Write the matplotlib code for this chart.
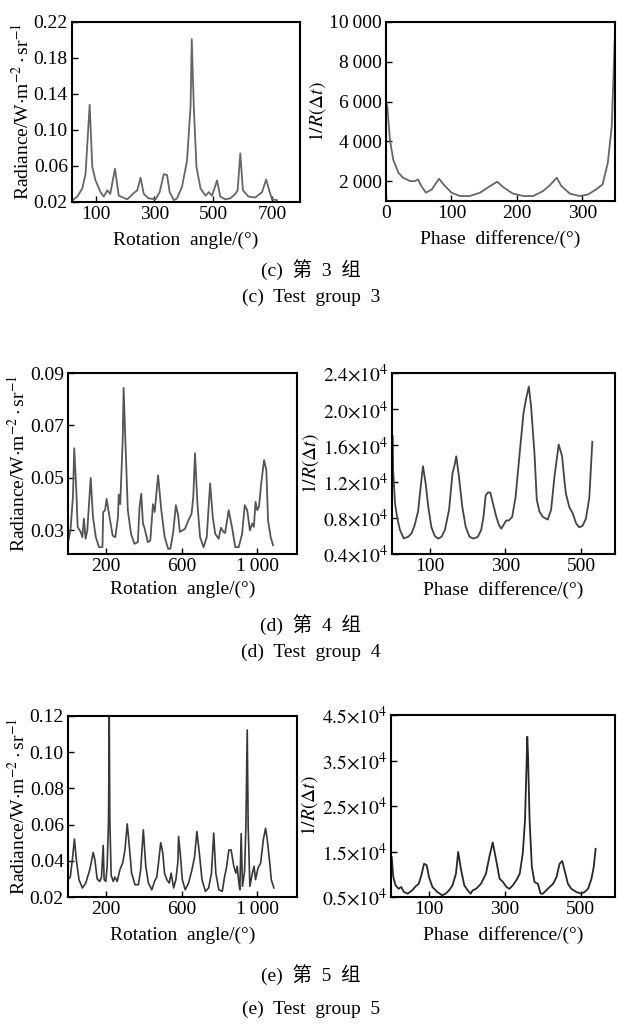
import matplotlib
matplotlib.use("Agg")
import matplotlib.pyplot as plt

plt.rcParams["font.family"] = ["Liberation Serif", "Noto Sans CJK SC"]
plt.rcParams["mathtext.fontset"] = "stix"

# ---- (c) test group 3 ----
c_ang = [22, 38, 55, 66, 80, 89, 100, 117, 128, 140, 150, 166, 179, 208, 230, 242,
         253, 264, 281, 304, 318, 332, 343, 352, 366, 377, 394, 411, 423, 427, 434,
         443, 457, 474, 485, 496, 513, 524, 541, 558, 575, 583, 592, 601, 620, 643,
         666, 680, 692, 700, 717]
c_rad = [0.022, 0.026, 0.035, 0.051, 0.128, 0.059, 0.044, 0.031, 0.026, 0.033, 0.029,
         0.057, 0.027, 0.023, 0.030, 0.033, 0.047, 0.029, 0.024, 0.023, 0.031, 0.051,
         0.050, 0.031, 0.022, 0.024, 0.037, 0.066, 0.126, 0.201, 0.126, 0.059, 0.035,
         0.027, 0.031, 0.027, 0.044, 0.026, 0.023, 0.024, 0.029, 0.033, 0.074, 0.033,
         0.026, 0.025, 0.031, 0.045, 0.031, 0.023, 0.022]
c_phase = [0, 2, 6, 11, 19, 26, 37, 44, 49, 54, 61, 70, 81, 88, 100, 113, 128, 144,
           159, 170, 179, 194, 210, 225, 240, 250, 261, 268, 281, 296, 309, 321, 331,
           339, 345, 350]
c_inv = [6000, 5750, 4080, 3080, 2420, 2170, 2000, 2000, 2080, 1750, 1420, 1580, 2120,
         1830, 1420, 1250, 1250, 1420, 1750, 1970, 1700, 1370, 1250, 1250, 1500, 1780,
         2170, 1750, 1370, 1250, 1330, 1580, 1830, 2920, 4750, 9500]

# ---- (d) test group 4 ----
d_ang = [0, 13, 26, 33, 44, 51, 67, 76, 84, 93, 102, 120, 132, 147, 164, 182, 186,
         196, 204, 218, 236, 250, 264, 268, 276, 289, 294, 303, 316, 333, 351, 369,
         378, 387, 396, 404, 422, 435, 449, 458, 476, 493, 511, 529, 541, 556, 570,
         582, 591, 618, 636, 653, 662, 671, 684, 698, 716, 733, 751, 765, 778, 796,
         808, 822, 830, 849, 867, 884, 902, 920, 934, 947, 961, 973, 982, 991, 1000,
         1009, 1021, 1036, 1048, 1057, 1071, 1084]
d_rad = [0.0255, 0.030, 0.0428, 0.0613, 0.045, 0.0313, 0.0294, 0.0274, 0.0345, 0.0268,
         0.030, 0.050, 0.035, 0.0274, 0.0236, 0.0236, 0.037, 0.0377, 0.042, 0.0357,
         0.028, 0.0274, 0.035, 0.0437, 0.040, 0.0645, 0.0843, 0.0645, 0.0377, 0.0287,
         0.0249, 0.0255, 0.0389, 0.044, 0.0326, 0.031, 0.0255, 0.0262, 0.040, 0.037,
         0.051, 0.0377, 0.0274, 0.023, 0.023, 0.0294, 0.0396, 0.0357, 0.0294, 0.0306,
         0.0338, 0.0364, 0.0428, 0.0594, 0.040, 0.0274, 0.0236, 0.0274, 0.0479, 0.035,
         0.0287, 0.0268, 0.031, 0.0294, 0.029, 0.0377, 0.031, 0.0236, 0.0236, 0.0287,
         0.0396, 0.0377, 0.030, 0.0326, 0.0313, 0.0409, 0.0377, 0.039, 0.0479, 0.0568,
         0.053, 0.0338, 0.0274, 0.0243]
d_phase = [2, 3, 8, 14, 21, 31, 43, 52, 60, 69, 75, 82, 89, 96, 104, 113, 122, 131,
           140, 151, 160, 166, 170, 177, 186, 195, 205, 216, 227, 236, 242, 248, 254,
           260, 267, 276, 283, 289, 295, 302, 309, 318, 327, 337, 348, 355, 362, 368,
           377, 383, 390, 399, 412, 421, 430, 441, 450, 456, 460, 469, 478, 487, 495,
           504, 513, 522, 530]
d_inv = [1.70, 1.33, 0.96, 0.795, 0.666, 0.573, 0.59, 0.63, 0.72, 0.87, 1.11, 1.37,
         1.18, 0.92, 0.70, 0.60, 0.57, 0.59, 0.666, 0.89, 1.29, 1.39, 1.48, 1.26, 0.92,
         0.70, 0.59, 0.57, 0.59, 0.666, 0.81, 1.05, 1.08, 1.08, 0.96, 0.81, 0.72, 0.68,
         0.72, 0.77, 0.77, 0.81, 1.03, 1.48, 1.96, 2.12, 2.25, 2.03, 1.51, 1.00, 0.87,
         0.81, 0.78, 0.89, 1.26, 1.61, 1.48, 1.22, 1.07, 0.92, 0.85, 0.74, 0.695, 0.71,
         0.79, 1.02, 1.64]

# ---- (e) test group 5 ----
e_ang = [0, 12, 23, 34, 44, 58, 76, 94, 106, 115, 124, 133, 142, 154, 168, 177, 186,
         191, 200, 207, 214, 218, 221, 228, 239, 248, 260, 274, 289, 301, 313, 324,
         336, 354, 372, 384, 398, 411, 425, 443, 457, 469, 478, 490, 501, 510, 522,
         535, 545, 558, 570, 581, 584, 593, 604, 619, 637, 655, 669, 681, 694, 708,
         726, 743, 758, 770, 781, 797, 815, 827, 837, 850, 862, 876, 887, 894, 901,
         908, 915, 922, 933, 940, 947, 952, 961, 974, 983, 991, 1004, 1018, 1032,
         1044, 1053, 1066, 1074, 1088]
e_rad = [0.0296, 0.031, 0.0406, 0.052, 0.0406, 0.0296, 0.025, 0.0277, 0.032, 0.035,
         0.0397, 0.0446, 0.0406, 0.030, 0.0286, 0.031, 0.0485, 0.0296, 0.0286, 0.037,
         0.0617, 0.1196, 0.0626, 0.032, 0.0286, 0.031, 0.0286, 0.035, 0.0388, 0.046,
         0.0604, 0.048, 0.0332, 0.0268, 0.0268, 0.035, 0.0571, 0.0369, 0.0277, 0.024,
         0.0286, 0.031, 0.0388, 0.050, 0.0443, 0.0332, 0.0296, 0.0277, 0.0332, 0.025,
         0.0296, 0.0397, 0.0535, 0.0443, 0.0296, 0.024, 0.0277, 0.035, 0.0424, 0.0562,
         0.0443, 0.0296, 0.0231, 0.025, 0.0332, 0.0553, 0.0332, 0.024, 0.0231, 0.031,
         0.036, 0.046, 0.046, 0.037, 0.0332, 0.037, 0.0296, 0.024, 0.055, 0.0259,
         0.0342, 0.059, 0.1123, 0.059, 0.0259, 0.0332, 0.037, 0.0296, 0.036, 0.0388,
         0.0516, 0.058, 0.0516, 0.0388, 0.0296, 0.025]
e_phase = [2, 6, 12, 20, 27, 34, 44, 56, 65, 73, 80, 87, 94, 100, 109, 122, 135, 144,
           153, 162, 171, 177, 184, 193, 202, 210, 215, 224, 237, 250, 259, 268, 277,
           286, 295, 304, 312, 321, 330, 339, 347, 353, 359, 361, 365, 371, 378, 387,
           394, 400, 409, 418, 427, 436, 444, 451, 457, 466, 475, 488, 501, 510, 519,
           528, 534, 539]
e_inv = [1.38, 0.94, 0.757, 0.68, 0.72, 0.61, 0.573, 0.647, 0.735, 0.79, 0.977, 1.23,
         1.20, 0.94, 0.72, 0.61, 0.537, 0.573, 0.647, 0.757, 1.01, 1.49, 1.12, 0.757,
         0.647, 0.573, 0.647, 0.68, 0.79, 1.01, 1.38, 1.70, 1.31, 0.90, 0.83, 0.72,
         0.68, 0.757, 0.867, 1.01, 1.45, 2.19, 4.02, 3.58, 2.19, 1.16, 0.83, 0.79,
         0.573, 0.573, 0.647, 0.72, 0.79, 0.94, 1.23, 1.29, 1.09, 0.79, 0.68, 0.61,
         0.573, 0.61, 0.68, 0.90, 1.16, 1.56]

c_rad_ticks = [0.02, 0.06, 0.10, 0.14, 0.18, 0.22]
c_ang_ticks = [100, 300, 500, 700]
c_inv_ticks = [2000, 4000, 6000, 8000, 10000]
c_inv_labels = ["2\u2009000", "4\u2009000", "6\u2009000", "8\u2009000", "10\u2009000"]
c_phase_ticks = [0, 100, 200, 300]
d_rad_ticks = [0.03, 0.05, 0.07, 0.09]
ang_ticks = [200, 600, 1000]
ang_labels = ["200", "600", "1\u2009000"]
d_inv_ticks = [0.4, 0.8, 1.2, 1.6, 2.0, 2.4]
phase_ticks = [100, 300, 500]
e_rad_ticks = [0.02, 0.04, 0.06, 0.08, 0.10, 0.12]
e_inv_ticks = [0.5, 1.5, 2.5, 3.5, 4.5]

W, H = 617, 1025
FS = 14
fig = plt.figure(figsize=(W / 100, H / 100), dpi=100)


def make_ax(x0, y0, x1, y1):
    ax = fig.add_axes([x0 / W, 1 - y1 / H, (x1 - x0) / W, (y1 - y0) / H])
    for s in ax.spines.values():
        s.set_linewidth(1.5)
    ax.tick_params(direction="in", length=4, width=1, labelsize=FS, pad=3)
    return ax


def rad_label(ax):
    ax.set_ylabel(r"Radiance/W$\cdot$m$^{-2}\cdot$sr$^{-1}$", fontsize=FS, labelpad=1)


def inv_label(ax):
    ax.set_ylabel(r"$1/R(\Delta t)$", fontsize=FS, labelpad=1)


def sci(vals):
    return [r"$%.1f{\times}10^{4}$" % v for v in vals]


ROT = "Rotation  angle/(°)"
PHA = "Phase  difference/(°)"
XPAD = 6

# (c) left
ax = make_ax(72, 22, 300, 202)
ax.plot(c_ang, c_rad, color="#666666", lw=1.3)
ax.set_xlim(20, 795)
ax.set_ylim(0.02, 0.22)
ax.set_yticks(c_rad_ticks)
ax.set_yticklabels(["%.2f" % v for v in c_rad_ticks])
ax.set_xticks(c_ang_ticks)
rad_label(ax)
ax.set_xlabel(ROT, fontsize=FS, labelpad=XPAD)

# (c) right
ax = make_ax(386, 22, 615, 201)
ax.plot(c_phase, c_inv, color="#666666", lw=1.3)
ax.set_xlim(0, 350)
ax.set_ylim(1000, 10000)
ax.set_yticks(c_inv_ticks)
ax.set_yticklabels(c_inv_labels)
ax.set_xticks(c_phase_ticks)
inv_label(ax)
ax.set_xlabel(PHA, fontsize=FS, labelpad=XPAD)

# (d) left
ax = make_ax(68, 373, 297, 554)
ax.plot(d_ang, d_rad, color="#555555", lw=1.3)
ax.set_xlim(0, 1210)
ax.set_ylim(0.021, 0.09)
ax.set_yticks(d_rad_ticks)
ax.set_yticklabels(["%.2f" % v for v in d_rad_ticks])
ax.set_xticks(ang_ticks)
ax.set_xticklabels(ang_labels)
rad_label(ax)
ax.set_xlabel(ROT, fontsize=FS, labelpad=XPAD - 2)

# (d) right
ax = make_ax(392, 373, 615, 554)
ax.plot(d_phase, d_inv, color="#444444", lw=1.3)
ax.set_xlim(0, 590)
ax.set_ylim(0.4, 2.4)
ax.set_yticks(d_inv_ticks)
ax.set_yticklabels(sci(d_inv_ticks))
ax.set_xticks(phase_ticks)
inv_label(ax)
ax.set_xlabel(PHA, fontsize=FS, labelpad=XPAD - 2)

# (e) left
ax = make_ax(68, 716, 297, 897)
ax.plot(e_ang, e_rad, color="#383838", lw=1.2)
ax.set_xlim(0, 1210)
ax.set_ylim(0.02, 0.12)
ax.set_yticks(e_rad_ticks)
ax.set_yticklabels(["%.2f" % v for v in e_rad_ticks])
ax.set_xticks(ang_ticks)
ax.set_xticklabels(ang_labels)
rad_label(ax)
ax.set_xlabel(ROT, fontsize=FS, labelpad=XPAD)

# (e) right
ax = make_ax(391, 715, 615, 897)
ax.plot(e_phase, e_inv, color="#282828", lw=1.3)
ax.set_xlim(0, 590)
ax.set_ylim(0.5, 4.5)
ax.set_yticks(e_inv_ticks)
ax.set_yticklabels(sci(e_inv_ticks))
ax.set_xticks(phase_ticks)
inv_label(ax)
ax.set_xlabel(PHA, fontsize=FS, labelpad=XPAD)

# captions
caps = [("(c)  第  3  组", 270), ("(c)  Test  group  3", 297),
        ("(d)  第  4  组", 625), ("(d)  Test  group  4", 652),
        ("(e)  第  5  组", 975), ("(e)  Test  group  5", 1009)]
for txt, yp in caps:
    fig.text(311 / W, 1 - yp / H, txt, ha="center", va="center", fontsize=FS)

fig.savefig("out.png", dpi=100)
